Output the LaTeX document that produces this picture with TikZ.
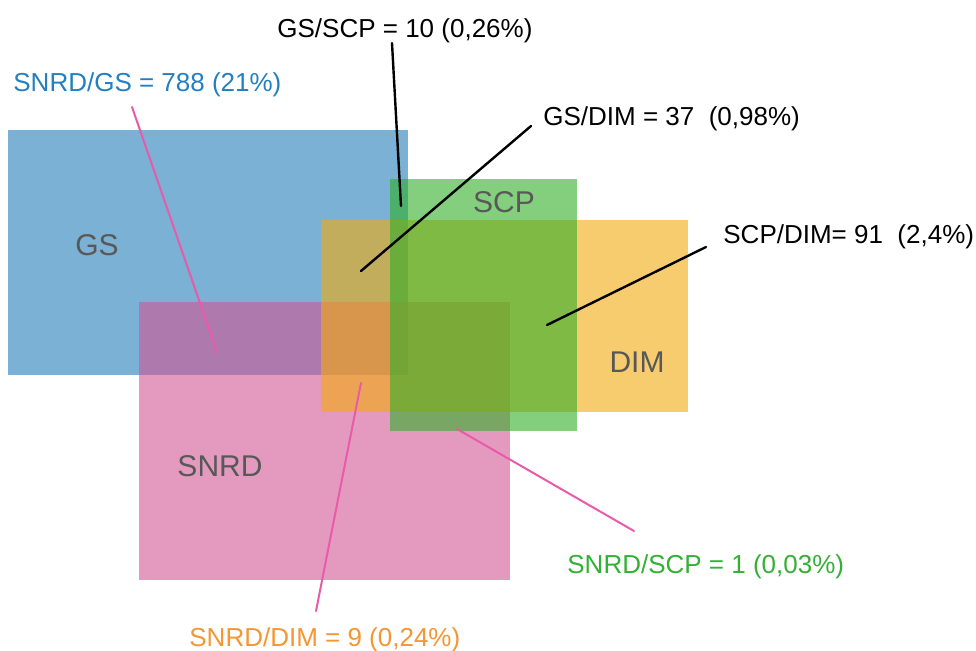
\documentclass[tikz,border=0pt]{standalone}
\usepackage{fontspec}
\setmainfont{Liberation Sans}
\usepackage{tikz}
\definecolor{gsblue}{RGB}{33,125,183}
\definecolor{snrdpink}{RGB}{210,87,147}
\definecolor{dimorange}{RGB}{242,170,13}
\definecolor{scpgreen}{RGB}{48,175,40}
\definecolor{regiongray}{RGB}{88,88,88}
\definecolor{txtblue}{RGB}{34,128,192}
\definecolor{txtgreen}{RGB}{52,176,52}
\definecolor{txtorange}{RGB}{245,150,50}
\definecolor{leadpink}{RGB}{232,90,170}

\begin{document}
\begin{tikzpicture}[x=0.5pt, y=-0.5pt,
    region/.style={fill opacity=0.6},
    setname/.style={anchor=base, inner sep=0pt, text=regiongray, font=\fontsize{15}{18}\selectfont},
    count/.style={anchor=base west, inner sep=0pt, font=\fontsize{13}{16}\selectfont},
    leadblack/.style={draw=black, line width=1.2pt, line cap=round},
    leadpinkline/.style={draw=leadpink, line width=1pt, line cap=round}]
        \useasboundingbox (0,0) rectangle (976,650);
        % sets
        \fill[region, gsblue] (8,130) rectangle (408,375);
        \fill[region, snrdpink] (139,302) rectangle (510,580);
        \fill[region, dimorange] (321,220) rectangle (688,412);
        \fill[region, scpgreen] (390,179) rectangle (577,431);
        \node[setname] (gs) at (97,255) {GS};
        \node[setname] (scp) at (504,212) {SCP};
        \node[setname] (dim) at (637,372) {DIM};
        \node[setname] (snrd) at (220,476) {SNRD};
        % counts
        \node[count] (gsscp) at (277,37) {GS/SCP = 10 (0,26\%)};
        \node[count, text=txtblue] (snrdgs) at (13,91) {SNRD/GS = 788 (21\%)};
        \node[count] (gsdim) at (543,125) {GS/DIM = 37\ \ (0,98\%)};
        \node[count] (scpdim) at (723,243) {SCP/DIM= 91\ \ (2,4\%)};
        \node[count, text=txtgreen] (snrdscp) at (567,573) {SNRD/SCP = 1 (0,03\%)};
        \node[count, text=txtorange] (snrddim) at (189,646) {SNRD/DIM = 9 (0,24\%)};
        % leader ends
        \coordinate (gsscp-a) at (392,43);
        \coordinate (gsscp-b) at (401,206);
        \coordinate (gsdim-a) at (531,126);
        \coordinate (gsdim-b) at (361,271);
        \coordinate (scpdim-a) at (706,247);
        \coordinate (scpdim-b) at (547,325);
        \coordinate (snrdgs-a) at (132,107);
        \coordinate (snrdgs-b) at (217,352);
        \coordinate (snrddim-a) at (316,611);
        \coordinate (snrddim-b) at (361,383);
        \coordinate (snrdscp-a) at (634,531);
        \coordinate (snrdscp-b) at (457,429);
        \draw[leadblack] (gsscp-a) -- (gsscp-b);
        \draw[leadblack] (gsdim-a) -- (gsdim-b);
        \draw[leadblack] (scpdim-a) -- (scpdim-b);
        \draw[leadpinkline] (snrdgs-a) -- (snrdgs-b);
        \draw[leadpinkline] (snrddim-a) -- (snrddim-b);
        \draw[leadpinkline] (snrdscp-a) -- (snrdscp-b);
\end{tikzpicture}
\end{document}
